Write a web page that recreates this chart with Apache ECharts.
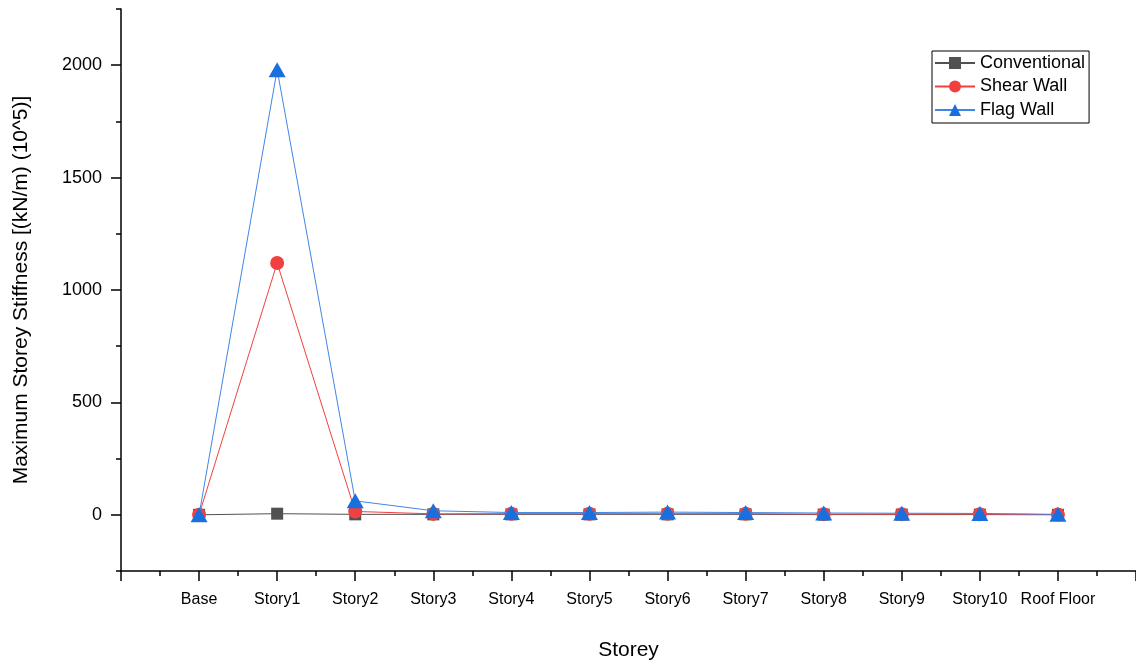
<!DOCTYPE html>
<html>
<head>
<meta charset="utf-8">
<script src="https://cdn.jsdelivr.net/npm/echarts@6/dist/echarts.min.js"></script>
<style>html,body{margin:0;padding:0;background:#fff}#c{width:1136px;height:660px}</style>
</head>
<body>
<div id="c"></div>
<script>
var categories = ['Base','Story1','Story2','Story3','Story4','Story5','Story6','Story7','Story8','Story9','Story10','Roof Floor'];
var conventional = [0, 5, 2, 2, 2, 2, 2, 2, 1, 1, 1, 0];
var shearWall = [0, 1120, 15, 4, 5, 5, 5, 5, 3, 3, 3, 1];
var flagWall = [0, 1980, 62, 18, 10, 10, 12, 10, 8, 7, 6, 2];
var yLabelTicks = [0, 500, 1000, 1500, 2000];
var yMinorTicks = [-250, 250, 750, 1250, 1750, 2250];

function pairs(arr){ return arr.map(function(v,i){ return [i, v]; }); }

var font = '"Liberation Sans", Arial, sans-serif';
var chart = echarts.init(document.getElementById('c'));
chart.setOption({
  animation: false,
  backgroundColor: '#fff',
  grid: { left: 121, right: 0, top: 9, bottom: 89, containLabel: false, outerBoundsMode: 'none' },
  legend: {
    orient: 'vertical', left: 932, top: 51,
    padding: [3, 4, 4, 2], itemGap: 5.5, itemWidth: 40, itemHeight: 15,
    borderColor: '#000', borderWidth: 1, backgroundColor: '#fff',
    textStyle: { fontFamily: font, fontSize: 18, color: '#000' },
    data: ['Conventional', 'Shear Wall', 'Flag Wall']
  },
  xAxis: {
    type: 'value', min: -1, max: 12, interval: 1,
    name: 'Storey', nameLocation: 'middle', nameGap: 69,
    nameTextStyle: { fontFamily: font, fontSize: 21, color: '#000' },
    axisLine: { show: true, onZero: false, lineStyle: { color: '#000', width: 1.5 } },
    axisTick: { show: true, length: 10, lineStyle: { color: '#000', width: 1.5 } },
    minorTick: { show: true, splitNumber: 2, length: 5, lineStyle: { color: '#000', width: 1.5 } },
    splitLine: { show: false },
    axisLabel: {
      margin: 21, fontFamily: font, fontSize: 16, color: '#000',
      formatter: function(v){ return (v >= 0 && v < categories.length) ? categories[v] : ''; }
    }
  },
  yAxis: [{
    type: 'value', min: -250, max: 2250, interval: 250,
    name: 'Maximum Storey Stiffness [(kN/m) (10^5)]', nameLocation: 'middle', nameGap: 89,
    nameTextStyle: { fontFamily: font, fontSize: 21, color: '#000' },
    axisLine: { show: true, onZero: false, lineStyle: { color: '#000', width: 1.5 } },
    axisTick: { show: true, length: 10, customValues: yLabelTicks, lineStyle: { color: '#000', width: 1.5 } },
    splitLine: { show: false },
    axisLabel: { margin: 19, fontFamily: font, fontSize: 18, color: '#000', customValues: yLabelTicks,
      formatter: function(v){ return String(v); } }
  }, {
    type: 'value', min: -250, max: 2250, interval: 250, position: 'left',
    axisLine: { show: false, onZero: false },
    axisTick: { show: true, length: 5, customValues: yMinorTicks, lineStyle: { color: '#000', width: 1.5 } },
    splitLine: { show: false },
    axisLabel: { show: false }
  }],
  series: [{
    name: 'Conventional', type: 'line', data: pairs(conventional),
    symbol: 'rect', symbolSize: 12, z: 2,
    itemStyle: { color: '#515151' }, lineStyle: { color: '#515151', width: 1 }
  }, {
    name: 'Shear Wall', type: 'line', data: pairs(shearWall),
    symbol: 'circle', symbolSize: 14, z: 3,
    itemStyle: { color: '#F14040' }, lineStyle: { color: '#F14040', width: 1 }
  }, {
    name: 'Flag Wall', type: 'line', data: pairs(flagWall),
    symbol: 'triangle', symbolSize: [17, 15], z: 4,
    itemStyle: { color: '#1A6FDF' }, lineStyle: { color: '#3F86E8', width: 1 }
  }]
});
</script>
</body>
</html>
